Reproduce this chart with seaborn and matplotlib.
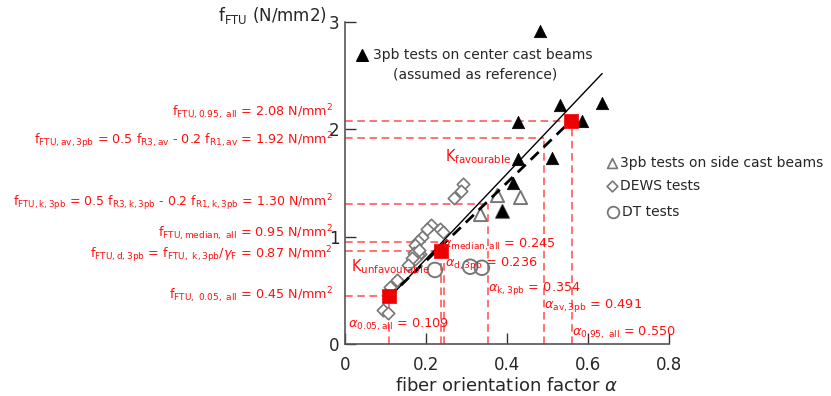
import matplotlib
matplotlib.use("Agg")
import matplotlib.pyplot as plt
import seaborn as sns
import pandas as pd

# ---------------- data ----------------
center_alpha = [0.481, 0.531, 0.635, 0.427, 0.585, 0.427, 0.511, 0.415, 0.388]
center_f = [2.92, 2.23, 2.25, 2.07, 2.08, 1.72, 1.73, 1.50, 1.24]

side_alpha = [0.375, 0.432, 0.333, 0.388]
side_f = [1.39, 1.37, 1.21, 1.24]

dews_alpha = [0.291, 0.286, 0.269, 0.212, 0.202, 0.235, 0.242, 0.190, 0.180, 0.173,
              0.178, 0.185, 0.180, 0.173, 0.170, 0.165, 0.183, 0.155, 0.128, 0.111,
              0.094, 0.106]
dews_f = [1.49, 1.43, 1.36, 1.11, 1.07, 1.07, 1.04, 1.00, 0.96, 0.92,
          0.86, 0.84, 0.83, 0.79, 0.85, 0.80, 0.88, 0.74, 0.60, 0.53,
          0.32, 0.29]

dt_alpha = [0.222, 0.309, 0.338]
dt_f = [0.69, 0.72, 0.71]

fit_alpha = [0.104, 0.635]
fit_f = [0.41, 2.52]

char_line_alpha = [0.106, 0.558]
char_line_f = [0.43, 2.08]

char_alpha = [0.109, 0.236, 0.558]
char_f = [0.45, 0.87, 2.08]

ref_alpha = [0.109, 0.236, 0.245, 0.354, 0.491, 0.56]
ref_f = [0.45, 0.87, 0.95, 1.30, 1.92, 2.08]

x_ticks = [0, 0.2, 0.4, 0.6, 0.8]
x_ticklabels = ["0", "0.2", "0.4", "0.6", "0.8"]
y_ticks = [0, 1, 2, 3]
y_ticklabels = ["0", "1", "2", "3"]

# ---------------- style ----------------
sns.set_theme(style="ticks")
plt.rcParams["font.family"] = ["DejaVu Sans"]
plt.rcParams["mathtext.fontset"] = "dejavusans"

RED = "#ff1010"
LRED = "#ff4d4d"
GREY = "#777777"

fig = plt.figure(figsize=(8.31, 3.96), dpi=100)
ax = fig.add_axes([345 / 831, 52 / 396, 324 / 831, 322 / 396])

# reference dashed red lines
for a, f in zip(ref_alpha, ref_f):
    ax.plot([0, a], [f, f], ls=(0, (5, 3)), color=LRED, lw=1.1, zorder=1)
    ax.plot([a, a], [0, f], ls=(0, (5, 3)), color=LRED, lw=1.1, zorder=1)

# fit lines
sns.lineplot(x=fit_alpha, y=fit_f, color="black", lw=1.0, ax=ax, zorder=4)
sns.lineplot(x=char_line_alpha, y=char_line_f, color="black", lw=2.0, ax=ax,
             zorder=4, linestyle=(0, (4, 2.5)))

# scatter groups
sns.scatterplot(x=dews_alpha, y=dews_f, marker="D", s=40, facecolor="white",
                edgecolor=GREY, linewidth=1.2, ax=ax, zorder=2)
sns.scatterplot(x=dt_alpha, y=dt_f, marker="o", s=110, facecolor="none",
                edgecolor=GREY, linewidth=1.4, ax=ax, zorder=2)
sns.scatterplot(x=side_alpha, y=side_f, marker="^", s=90, facecolor="white",
                edgecolor=GREY, linewidth=1.4, ax=ax, zorder=3)
sns.scatterplot(x=center_alpha, y=center_f, marker="^", s=80, color="black",
                edgecolor="black", linewidth=0.5, ax=ax, zorder=5)
sns.scatterplot(x=char_alpha, y=char_f, marker="s", s=95, color="#ee0000",
                edgecolor="#ee0000", linewidth=0.5, ax=ax, zorder=6)

ax.set_xlim(0, 0.8)
ax.set_ylim(0, 3)
ax.set_xticks(x_ticks)
ax.set_xticklabels(x_ticklabels)
ax.set_yticks(y_ticks)
ax.set_yticklabels(y_ticklabels)
ax.tick_params(direction="in", length=8, width=1.0, color="#333333",
               labelsize=12)
ax.tick_params(axis="x", pad=9)
ax.tick_params(axis="y", pad=4)
for side in ["top", "right"]:
    ax.spines[side].set_visible(False)
for side in ["left", "bottom"]:
    ax.spines[side].set_color("#555555")
    ax.spines[side].set_linewidth(1.2)
ax.set_xlabel(r"fiber orientation factor $\alpha$", fontsize=13, labelpad=2)
ax.set_ylabel("")
fig.text(218 / 831, 1 - 15 / 396, r"f$_{\mathrm{FTU}}$ (N/mm2)", fontsize=12,
         ha="left", va="center")

# legends
lgfs = 10
ax.scatter([0.042], [2.69], marker="^", s=70, color="black", clip_on=False)
ax.text(0.068, 2.69, "3pb tests on center cast beams", fontsize=lgfs,
        va="center", ha="left")
ax.text(0.322, 2.51, "(assumed as reference)", fontsize=lgfs, va="center",
        ha="center")
ax.scatter([0.659], [1.69], marker="^", s=50, facecolor="white",
           edgecolor=GREY, linewidth=1.2, clip_on=False)
ax.text(0.68, 1.69, "3pb tests on side cast beams", fontsize=lgfs,
        va="center", ha="left")
ax.scatter([0.659], [1.47], marker="D", s=30, facecolor="white",
           edgecolor=GREY, linewidth=1.2, clip_on=False)
ax.text(0.68, 1.47, "DEWS tests", fontsize=lgfs, va="center", ha="left")
ax.scatter([0.661], [1.23], marker="o", s=70, facecolor="white",
           edgecolor=GREY, linewidth=1.3, clip_on=False)
ax.text(0.685, 1.23, "DT tests", fontsize=lgfs, va="center", ha="left")

# left labels
lx = -0.03
left_labels = [
    (2.16, r"f$_{\mathrm{FTU,0.95,\ all}}$ = 2.08 N/mm$^2$", 9.2),
    (1.89, r"f$_{\mathrm{FTU,av,3pb}}$ = 0.5 f$_{\mathrm{R3,av}}$ - 0.2 f$_{\mathrm{R1,av}}$ = 1.92 N/mm$^2$", 9.2),
    (1.32, r"f$_{\mathrm{FTU,k,3pb}}$ = 0.5 f$_{\mathrm{R3,k,3pb}}$ - 0.2 f$_{\mathrm{R1,k,3pb}}$ = 1.30 N/mm$^2$", 9.0),
    (1.03, r"f$_{\mathrm{FTU,median,\ all}}$ = 0.95 N/mm$^2$", 9.2),
    (0.83, r"f$_{\mathrm{FTU,d,3pb}}$ = f$_{\mathrm{FTU,\ k,3pb}}$/$\gamma_{\mathrm{F}}$ = 0.87 N/mm$^2$", 9.2),
    (0.46, r"f$_{\mathrm{FTU,\ 0.05,\ all}}$ = 0.45 N/mm$^2$", 9.2),
]
for y, t, fs in left_labels:
    ax.text(lx, y, t, color=RED, fontsize=fs, ha="right", va="center",
            clip_on=False)

# in-plot annotations
afs = 9.3
ann = [
    (0.247, 1.75, r"K$_{\mathrm{favourable}}$", 10.5),
    (0.015, 0.72, r"K$_{\mathrm{unfavourable}}$", 10.5),
    (0.007, 0.18, r"$\alpha_{\mathrm{0.05,all}}$ = 0.109", afs),
    (0.240, 0.92, r"$\alpha_{\mathrm{median,all}}$ = 0.245", afs),
    (0.247, 0.75, r"$\alpha_{\mathrm{d,3pb}}$ = 0.236", afs),
    (0.353, 0.52, r"$\alpha_{\mathrm{k,3pb}}$ = 0.354", afs),
    (0.491, 0.36, r"$\alpha_{\mathrm{av,3pb}}$ = 0.491", afs),
    (0.560, 0.10, r"$\alpha_{\mathrm{0.95,\ all}}$ = 0.550", afs),
]
for x, y, t, fs in ann:
    ax.text(x, y, t, color=RED, fontsize=fs, ha="left", va="center",
            zorder=7, clip_on=False)

fig.savefig("out.png", dpi=100)
